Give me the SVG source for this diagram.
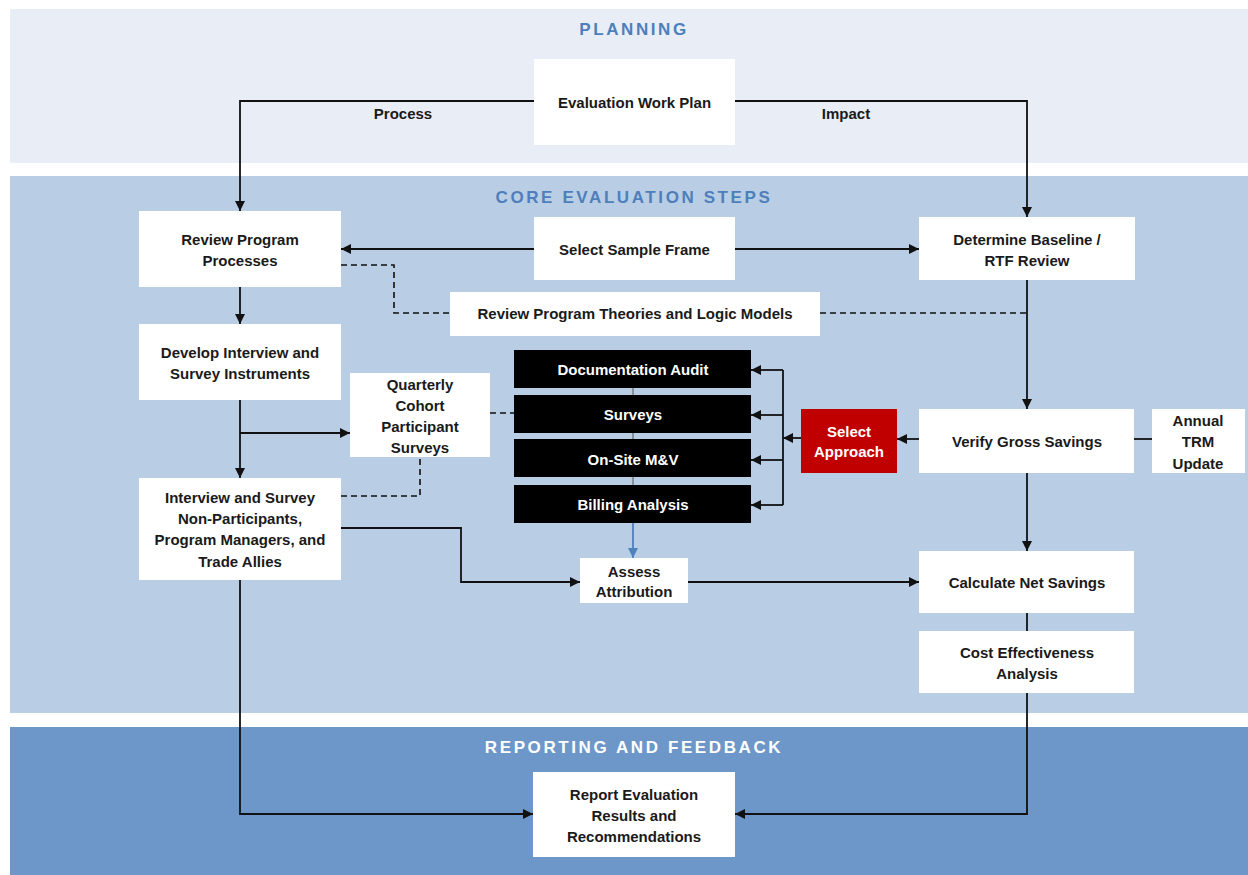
<svg xmlns="http://www.w3.org/2000/svg" width="1248" height="875" viewBox="0 0 1248 875">
<defs>
<style>
.band-title{font-family:"Liberation Sans",Arial,sans-serif;font-weight:bold;font-size:17px;letter-spacing:2.6px;text-anchor:middle}
.t{font-family:"Liberation Sans",Arial,sans-serif;font-weight:bold;font-size:15px;fill:#1a1a1a;text-anchor:middle}
.tw{font-family:"Liberation Sans",Arial,sans-serif;font-weight:bold;font-size:15px;fill:#ffffff;text-anchor:middle}
.box{fill:#ffffff}
.blk{fill:#000000}
.red{fill:#c00000}
.c{fill:none;stroke:#111111;stroke-width:1.8}
.d{fill:none;stroke:#111111;stroke-width:1.6;stroke-dasharray:6 4}
.blue{fill:none;stroke:#4f81bd;stroke-width:1.8}
.thin{fill:none;stroke:#555555;stroke-width:1}
</style>
<marker id="ah" viewBox="0 0 10 10" refX="10" refY="5" markerWidth="10" markerHeight="10" markerUnits="userSpaceOnUse" orient="auto">
<path d="M0,0 L10,5 L0,10 z" fill="#111111"/>
</marker>
<marker id="ahb" viewBox="0 0 10 10" refX="10" refY="5" markerWidth="10" markerHeight="10" markerUnits="userSpaceOnUse" orient="auto">
<path d="M0,0 L10,5 L0,10 z" fill="#4f81bd"/>
</marker>
</defs>

<rect x="0" y="0" width="1248" height="875" fill="#ffffff"/>
<g id="bands">
<rect x="10" y="9" width="1238" height="154" fill="#e9eef6"/>
<rect x="10" y="176" width="1238" height="537" fill="#b9cde5"/>
<rect x="10" y="727" width="1238" height="148" fill="#6d97c9"/>
<text class="band-title" x="634" y="35" fill="#4f7fba">PLANNING</text>
<text class="band-title" x="634" y="203" fill="#4f7fba">CORE EVALUATION STEPS</text>
<text class="band-title" x="634" y="753" fill="#ffffff">REPORTING AND FEEDBACK</text>
</g>

<g id="connectors">
<path class="c" d="M534,101 H240 V211" marker-end="url(#ah)"/>
<path class="c" d="M735,101 H1027 V217" marker-end="url(#ah)"/>
<text class="t" x="403" y="119">Process</text>
<text class="t" x="846" y="119">Impact</text>
<path class="c" d="M534,249 H341" marker-end="url(#ah)"/>
<path class="c" d="M735,249 H919" marker-end="url(#ah)"/>
<path class="d" d="M341,265 H394 V313 H450"/>
<path class="d" d="M820,313 H1027"/>
<path class="c" d="M240,287 V324" marker-end="url(#ah)"/>
<path class="c" d="M240,400 V478" marker-end="url(#ah)"/>
<path class="c" d="M240,433 H350" marker-end="url(#ah)"/>
<path class="d" d="M341,496 H420 V457"/>
<path class="d" d="M490,413 H515"/>
<path class="thin" d="M633,388 V395 M633,433 V439 M633,477 V485"/>
<path class="c" d="M783,370 V505"/>
<path class="c" d="M783,370 H751" marker-end="url(#ah)"/>
<path class="c" d="M783,415 H751" marker-end="url(#ah)"/>
<path class="c" d="M783,460 H751" marker-end="url(#ah)"/>
<path class="c" d="M783,505 H751" marker-end="url(#ah)"/>
<path class="c" d="M801,438 H783" marker-end="url(#ah)"/>
<path class="c" d="M919,439 H897" marker-end="url(#ah)"/>
<path class="c" d="M1027,280 V409" marker-end="url(#ah)"/>
<path class="c" d="M1134,439 H1152"/>
<path class="c" d="M1027,473 V551" marker-end="url(#ah)"/>
<path class="c" d="M1027,613 V631"/>
<path class="blue" d="M633,523 V558" marker-end="url(#ahb)"/>
<path class="c" d="M341,528 H461 V582 H580" marker-end="url(#ah)"/>
<path class="c" d="M688,582 H919" marker-end="url(#ah)"/>
<path class="c" d="M240,580 V814 H533" marker-end="url(#ah)"/>
<path class="c" d="M1027,693 V814 H735" marker-end="url(#ah)"/>
</g>

<g id="evaluation-work-plan">
<rect class="box" x="534" y="59" width="201" height="86"/>
<text class="t" x="634.5" y="108">Evaluation Work Plan</text>
</g>
<g id="review-program-processes">
<rect class="box" x="139" y="211" width="202" height="76"/>
<text class="t" x="240" y="245">Review Program</text>
<text class="t" x="240" y="266">Processes</text>
</g>
<g id="select-sample-frame">
<rect class="box" x="534" y="217" width="201" height="63"/>
<text class="t" x="634.5" y="255">Select Sample Frame</text>
</g>
<g id="determine-baseline">
<rect class="box" x="919" y="217" width="216" height="63"/>
<text class="t" x="1027" y="245">Determine Baseline /</text>
<text class="t" x="1027" y="266">RTF Review</text>
</g>
<g id="review-program-theories">
<rect class="box" x="450" y="292" width="370" height="44"/>
<text class="t" x="635" y="319">Review Program Theories and Logic Models</text>
</g>
<g id="develop-instruments">
<rect class="box" x="139" y="324" width="202" height="76"/>
<text class="t" x="240" y="358">Develop Interview and</text>
<text class="t" x="240" y="379">Survey Instruments</text>
</g>
<g id="quarterly-cohort">
<rect class="box" x="350" y="373" width="140" height="84"/>
<text class="t" x="420" y="390">Quarterly</text>
<text class="t" x="420" y="411">Cohort</text>
<text class="t" x="420" y="432">Participant</text>
<text class="t" x="420" y="453">Surveys</text>
</g>
<g id="interview-survey">
<rect class="box" x="139" y="478" width="202" height="102"/>
<text class="t" x="240" y="503">Interview and Survey</text>
<text class="t" x="240" y="524">Non-Participants,</text>
<text class="t" x="240" y="545">Program Managers, and</text>
<text class="t" x="240" y="567">Trade Allies</text>
</g>
<g id="documentation-audit">
<rect class="blk" x="514" y="350" width="237" height="38"/>
<text class="tw" x="633" y="375">Documentation Audit</text>
</g>
<g id="surveys">
<rect class="blk" x="514" y="395" width="237" height="38"/>
<text class="tw" x="633" y="420">Surveys</text>
</g>
<g id="onsite-mv">
<rect class="blk" x="514" y="439" width="237" height="38"/>
<text class="tw" x="633" y="465">On-Site  M&amp;V</text>
</g>
<g id="billing-analysis">
<rect class="blk" x="514" y="485" width="237" height="38"/>
<text class="tw" x="633" y="510">Billing Analysis</text>
</g>
<g id="select-approach">
<rect class="red" x="801" y="409" width="96" height="64"/>
<text class="tw" x="849" y="437">Select</text>
<text class="tw" x="849" y="457">Approach</text>
</g>
<g id="verify-gross-savings">
<rect class="box" x="919" y="409" width="215" height="64"/>
<text class="t" x="1027" y="447">Verify Gross Savings</text>
</g>
<g id="annual-trm-update">
<rect class="box" x="1152" y="409" width="93" height="64"/>
<text class="t" x="1198" y="426">Annual</text>
<text class="t" x="1198" y="447">TRM</text>
<text class="t" x="1198" y="469">Update</text>
</g>
<g id="assess-attribution">
<rect class="box" x="580" y="558" width="108" height="45"/>
<text class="t" x="634" y="577">Assess</text>
<text class="t" x="634" y="597">Attribution</text>
</g>
<g id="calculate-net-savings">
<rect class="box" x="919" y="551" width="215" height="62"/>
<text class="t" x="1027" y="588">Calculate Net Savings</text>
</g>
<g id="cost-effectiveness">
<rect class="box" x="919" y="631" width="215" height="62"/>
<text class="t" x="1027" y="658">Cost Effectiveness</text>
<text class="t" x="1027" y="679">Analysis</text>
</g>
<g id="report-evaluation">
<rect class="box" x="533" y="772" width="202" height="85"/>
<text class="t" x="634" y="800">Report Evaluation</text>
<text class="t" x="634" y="821">Results and</text>
<text class="t" x="634" y="842">Recommendations</text>
</g>
</svg>
